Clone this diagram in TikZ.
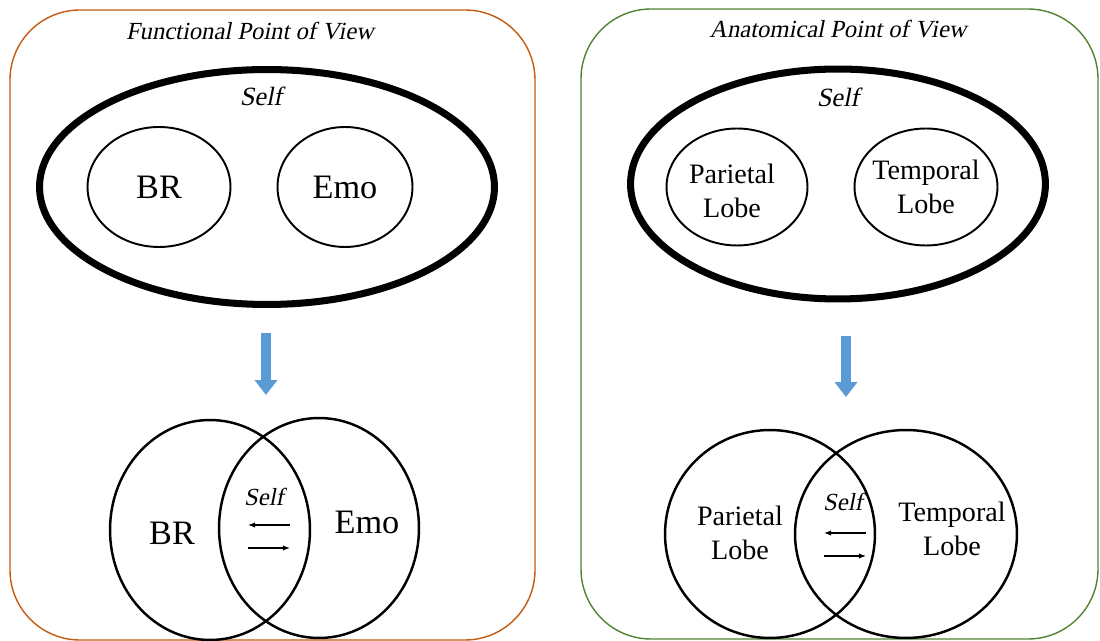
\documentclass[tikz,border=0pt]{standalone}
\usepackage{fontspec}
\setmainfont{Liberation Serif}
\newfontfamily\slantserif[FakeSlant=0.2]{Liberation Serif}
\usepackage{tikz}
\usetikzlibrary{arrows.meta,shapes.geometric,positioning}
\definecolor{funcorange}{RGB}{197,90,17}
\definecolor{anatgreen}{RGB}{84,130,53}
\definecolor{downblue}{RGB}{91,155,213}

\begin{document}
\begin{tikzpicture}[x=0.02cm,y=-0.02cm,
  panel/.style={rounded corners=14mm,line width=0.8pt},
  selfoval/.style={draw,ellipse,line width=4pt,inner sep=0pt},
  part/.style={draw,ellipse,line width=1.1pt,inner sep=0pt,minimum width=28.6mm,minimum height=24mm,align=center},
  venn/.style={draw,ellipse,line width=1.4pt,inner sep=0pt},
  title/.style={font=\slantserif\fontsize{14}{16}\selectfont},
  selflabel/.style={font=\slantserif\fontsize{15}{17}\selectfont},
  big/.style={font=\fontsize{19.5}{22}\selectfont},
  lobe/.style={font=\fontsize{16}{19.3}\selectfont,align=center},
  thin/.style={-{Latex[length=4pt,width=3pt]},line width=0.6pt},
  down/.style={-{Triangle[length=8.5pt,width=12.5pt]},line width=5.5pt,draw=downblue}
]
\useasboundingbox (0,0) rectangle (1100,641);

% functional panel
\draw[panel,draw=funcorange] (10,10) rectangle (535,640);
\node[title] (ftitle) at (250,31) {Functional Point of View};
\node[selfoval,minimum width=91mm,minimum height=47mm] (fself) at (267,187) {};
\node[selflabel] (fselflabel) at (261,96) {Self};
\node[part,big] (br) at (159,187) {BR};
\node[part,big,minimum width=27mm] (emo) at (345,187) {Emo};
\coordinate (fdtop) at (266,333);
\coordinate (fdbot) at (266,395);
\draw[down] (fdtop) -- (fdbot);
\node[venn,minimum width=40mm,minimum height=44mm] (fvl) at (210,530) {};
\node[venn,minimum width=40mm,minimum height=44mm] (fvr) at (319,528) {};
\node[big] (brv) at (172,533) {BR};
\node[big] (emov) at (367,522) {Emo};
\node[selflabel,font=\slantserif\fontsize{14}{16}\selectfont] (fvself) at (264,497) {Self};
\coordinate (fl1) at (290,525); \coordinate (fl2) at (248,525);
\coordinate (fr1) at (248,548); \coordinate (fr2) at (290,548);
\draw[thin] (fl1) -- (fl2);
\draw[thin] (fr1) -- (fr2);

% anatomical panel
\draw[panel,draw=anatgreen] (581,9) rectangle (1098,639);
\node[title] (atitle) at (838,29) {Anatomical Point of View};
\node[selfoval,minimum width=83mm,minimum height=46mm] (aself) at (838,184) {};
\node[selflabel] (aselflabel) at (838,97) {Self};
\node[part,lobe,minimum width=28.2mm,minimum height=23.4mm] (par) at (737,187) {};
\node[lobe] (partext) at (732,191) {Parietal\\Lobe};
\node[part,lobe,minimum width=28.6mm,minimum height=23.4mm] (temp) at (926,187) {};
\node[lobe] (temptext) at (926,187) {Temporal\\Lobe};
\coordinate (adtop) at (846,336);
\coordinate (adbot) at (846,397);
\draw[down] (adtop) -- (adbot);
\node[venn,minimum width=42mm,minimum height=41.6mm] (avl) at (770,534) {};
\node[venn,minimum width=44.4mm,minimum height=41.6mm] (avr) at (906,534) {};
\node[lobe] (parv) at (740,533) {Parietal\\Lobe};
\node[lobe] (tempv) at (952,529) {Temporal\\Lobe};
\node[selflabel,font=\slantserif\fontsize{14}{16}\selectfont] (avself) at (843,502) {Self};
\coordinate (al1) at (866,533); \coordinate (al2) at (824,533);
\coordinate (ar1) at (824,556); \coordinate (ar2) at (866,556);
\draw[thin] (al1) -- (al2);
\draw[thin] (ar1) -- (ar2);
\end{tikzpicture}
\end{document}
